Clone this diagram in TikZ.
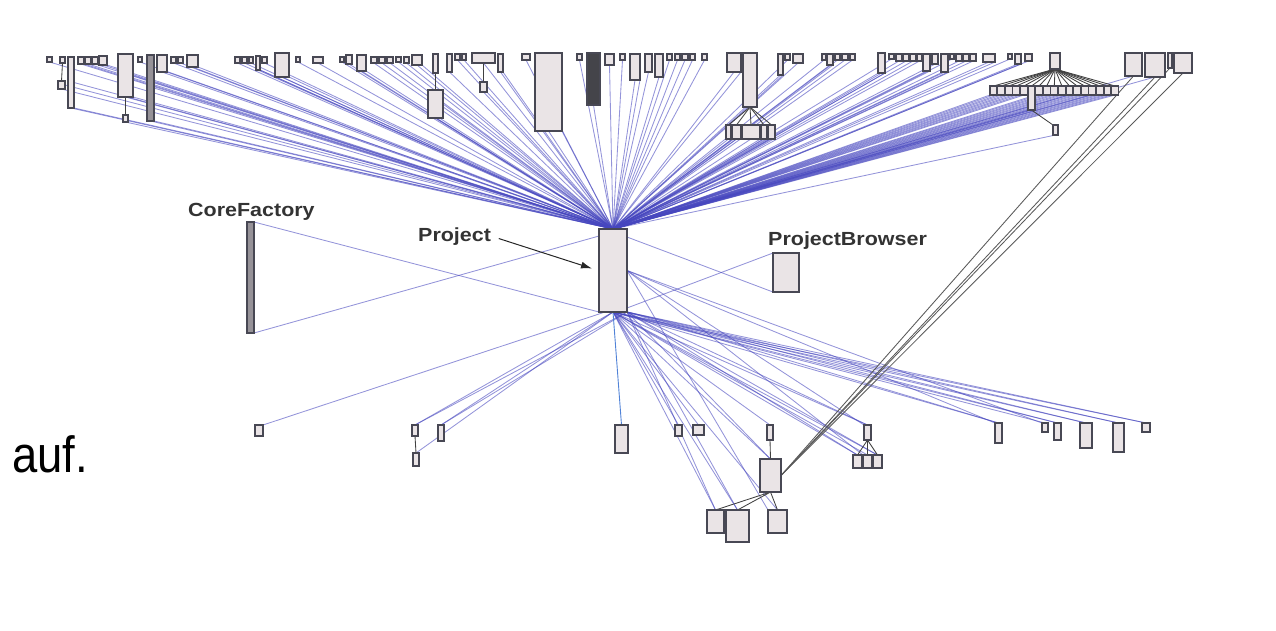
\documentclass[tikz,border=0pt]{standalone}
\usepackage{fontspec}
\setmainfont{Liberation Sans}
\newfontfamily\lblfont[FakeStretch=1.13]{Liberation Sans}
\newfontfamily\slidefont[FakeStretch=0.89]{Liberation Sans}
\usetikzlibrary{arrows.meta,backgrounds}
\definecolor{boxfill}{RGB}{234,228,230}
\definecolor{boxgray}{RGB}{72,72,84}
\definecolor{cfgray}{RGB}{150,146,152}
\definecolor{darkbox}{RGB}{68,68,74}
\definecolor{linkblue}{RGB}{70,70,190}
\definecolor{vertblue}{RGB}{80,130,215}
\begin{document}
\begin{tikzpicture}[x=1pt,y=-1pt,
    cls/.style={draw=boxgray,fill=boxfill,line width=1.2pt,inner sep=0pt,outer sep=0pt,anchor=north west},
    link/.style={linkblue,line width=0.85pt,opacity=0.58},
    tie/.style={black!75,line width=0.85pt},
    lbl/.style={font=\lblfont\bfseries\fontsize{19}{19}\selectfont,text=black!80,inner sep=0pt,anchor=base west}]
    \useasboundingbox (0,0) rectangle (1276,630);

    % centre and labelled classes
    \node[cls,minimum width=28,minimum height=83] (hub) at (599,229) {};
    \node[cls,fill=cfgray,minimum width=7,minimum height=111] (cf) at (247,222) {};
    \node[cls,minimum width=26,minimum height=39] (pb) at (773,253) {};
    \node[lbl] (cflbl) at (188,216) {CoreFactory};
    \node[lbl] (prjlbl) at (418,241) {Project};
    \node[lbl] (pblbl) at (768,245) {ProjectBrowser};
    \node[font=\slidefont\fontsize{51}{51}\selectfont,inner sep=0pt,anchor=base west] (auf) at (12,472) {auf.};

    % top row
    \foreach \n/\x/\y/\w/\h in {a1/47/57/5/5, a2/60/57/5/6, a2c/58/81/7/8, a3/68/57/6/51,
        a4/78/57/6/7, a5/85/57/6/7, a6/92/57/6/7, a7/99/56/8/9, a8/118/54/15/43, a8c/123/115/5/7,
        a9/138/57/4/5, a11/157/55/10/17, a12/171/57/5/6, a13/178/57/5/6, a14/187/55/11/12,
        b1/235/57/5/6, b2/242/57/5/6, b3/249/57/4/6, b4/256/56/4/14, b5/262/57/5/6,
        b6/275/53/14/24, b7/296/57/4/5, b8/313/57/10/6, b9/340/57/4/5, b10/346/55/6/9,
        b11/357/55/9/16, b12/371/57/6/6, b13/379/57/6/6, b14/387/57/6/6, b15/396/57/5/5,
        b16/404/57/5/6, b17/412/55/10/10, b18/433/54/5/19, b18c/428/90/15/28, b19/447/54/5/18,
        b20/455/54/5/6, b21/462/54/4/6, b22/472/53/23/10, b22c/480/82/7/10, b23/498/54/5/18,
        b24/522/54/8/6, b25/535/53/27/78, b26/577/54/5/6, b28/605/54/9/11, b29/620/54/5/6,
        b30/630/54/10/26, b31/645/54/7/18, b32/655/54/8/23, b33/667/54/5/6, b34/675/54/5/6,
        b35/682/54/6/6, b36/690/54/5/6, b37/702/54/5/6, b38/727/53/14/19, b39/743/53/14/54,
        c1/726/125/5/14, c2/732/125/9/14, c3/742/125/18/14, c4/761/125/6/14, c5/768/125/7/14,
        b40/778/54/5/21, b41/785/54/5/6, b42/793/54/10/9, b43/822/54/4/6, b44/827/54/6/11,
        b45/835/54/5/6, b46/842/54/6/6, b47/850/54/5/6, b48/878/53/7/20, b49/889/54/5/5,
        b50/896/54/6/7, b51/903/54/6/7, b52/910/54/6/7, b53/917/54/5/7, b54/923/54/7/17,
        b55/932/54/6/10, b56/941/54/7/18, b57/950/54/4/5, b58/956/54/6/7, b59/963/54/6/7,
        b60/970/54/6/7, b61/983/54/12/8, b62/1008/54/4/5, b63/1015/54/6/10, b64/1025/54/7/7,
        gp/1050/53/10/16, gx/1053/125/5/10,
        r1/1125/53/17/23, r2/1145/53/20/24, r3/1168/53/4/15, r4/1174/53/18/20}
        \node[cls,minimum width=\w,minimum height=\h] (\n) at (\x,\y) {};
    \node[cls,fill=cfgray,minimum width=7,minimum height=66] (a10) at (147,55) {};
    \node[cls,fill=darkbox,minimum width=13,minimum height=52] (b27) at (587,53) {};
    \foreach \i in {0,...,16} {
        \pgfmathsetmacro\gh{\i==5 ? 24 : 9}
        \node[cls,minimum width=7,minimum height=\gh] (g\i) at ({990+7.6*\i},86) {};
    }

    % bottom row
    \foreach \n/\x/\y/\w/\h in {d1/255/425/8/11, d2/412/425/6/11, d2c/413/453/6/13, d3/438/425/6/16,
        d4/615/425/13/28, d5/675/425/7/11, d6/693/425/11/10, d7/767/425/6/15, d7c/760/459/21/33,
        e1/707/510/17/23, e2/726/510/23/32, e3/768/510/19/23,
        d8/864/425/7/15, f1/853/455/9/13, f2/863/455/9/13, f3/873/455/9/13,
        d9/995/423/7/20, d10/1042/423/6/9, d11/1054/423/7/17, d12/1080/423/12/25,
        d13/1113/423/11/29, d14/1142/423/8/9}
        \node[cls,minimum width=\w,minimum height=\h] (\n) at (\x,\y) {};

    \draw[-{Latex[length=11pt,width=7pt]},black!85,line width=1pt,shorten <=8pt] (prjlbl.east) -- ([xshift=-7pt,yshift=2pt]hub.west);

    \begin{pgfonlayer}{background}
    \foreach \n in {a1,a2c,a3,a4,a5,a6,a7,a8,a8c,a9,a10,a11,a12,a13,a14,
        b1,b2,b3,b4,b5,b6,b7,b8,b9,b10,b11,b12,b13,b14,b15,b16,b17,b18c,b19,b20,b21,b22,b22c,b23,
        b24,b25,b26,b27,b28,b29,b30,b31,b32,b33,b34,b35,b36,b37,b38,c1,c2,c3,c4,c5,
        b40,b41,b42,b43,b44,b45,b46,b47,b48,b49,b50,b51,b52,b53,b54,b55,b56,b57,b58,b59,
        b60,b61,b62,b63,b64,gx,r1,r2}
        \draw[link] (\n.south) -- (hub.north);
    \foreach \n in {a3.east,a3.south east,a10.east,a10.south east,a8.east,a8.south east,
        a11.south east,a14.south east,b6.south east,b18c.east,b25.south east,c5.east,
        a2c.east,a4.south east,a7.south east,b4.south east,b11.south east,b17.south east,
        b23.south east,b30.south east,b38.south east,b40.south east,b44.south east,
        b48.south east,b54.south east,b56.south east,b61.south east,b63.south east}
        \draw[link] (\n) -- (hub.north);
    \foreach \i in {0,...,16} {
        \draw[link] (g\i.south) -- (hub.north);
        \draw[link] (g\i.south west) -- (hub.north);
        \draw[tie] (gp.south) -- (g\i.north);
    }
    \draw[link] (cf.north east) -- (hub.south west);
    \draw[link] (cf.south east) -- ([yshift=-7pt]hub.north west);
    \draw[link] (pb.north west) -- ([yshift=4pt]hub.south east);
    \draw[link] (pb.south west) -- ([yshift=-8pt]hub.north east);
    \draw[link] (d1.north east) -- ([xshift=-8pt]hub.south);
    \foreach \n in {d2,d3,d2c,d5,d6,d7,d7c,e1,e2,e3,d8,f1,f2,f3,d9,d10,d11,d12,d13,d14}
        \draw[link] (hub.south) -- (\n.north);
    \foreach \n in {d2,d3,e1,e2,d7c,d8,f1,f3,d9,d11,d12,d13,d14}
        \draw[link] (hub.south east) -- (\n.north);
    \foreach \n in {d8,f2,d9,d10,e3}
        \draw[link] (hub.east) -- (\n.north west);
    \draw[vertblue,line width=0.9pt] (hub.south) -- (d4.north);

    % parent to child
    \foreach \n in {c1,c2,c3,c4,c5} \draw[tie] (b39.south) -- (\n.north);
    \foreach \n in {f1,f2,f3} \draw[tie] (d8.south) -- (\n.north);
    \foreach \n in {e1,e2,e3} \draw[tie] (d7c.south) -- (\n.north);
    \draw[tie] (a2.south) -- (a2c.north);
    \draw[tie] (a8.south) -- (a8c.north);
    \draw[tie] (b18.south) -- (b18c.north);
    \draw[tie] (b22.south) -- (b22c.north);
    \draw[tie] (d2.south) -- (d2c.north);
    \draw[tie] (d7.south) -- (d7c.north);
    \draw[tie] (g5.south) -- (gx.north west);
    \foreach \n in {r1,r2,r3,r4} \draw[tie,black!65] (d7c.east) -- (\n.south);
    \end{pgfonlayer}
\end{tikzpicture}
\end{document}
